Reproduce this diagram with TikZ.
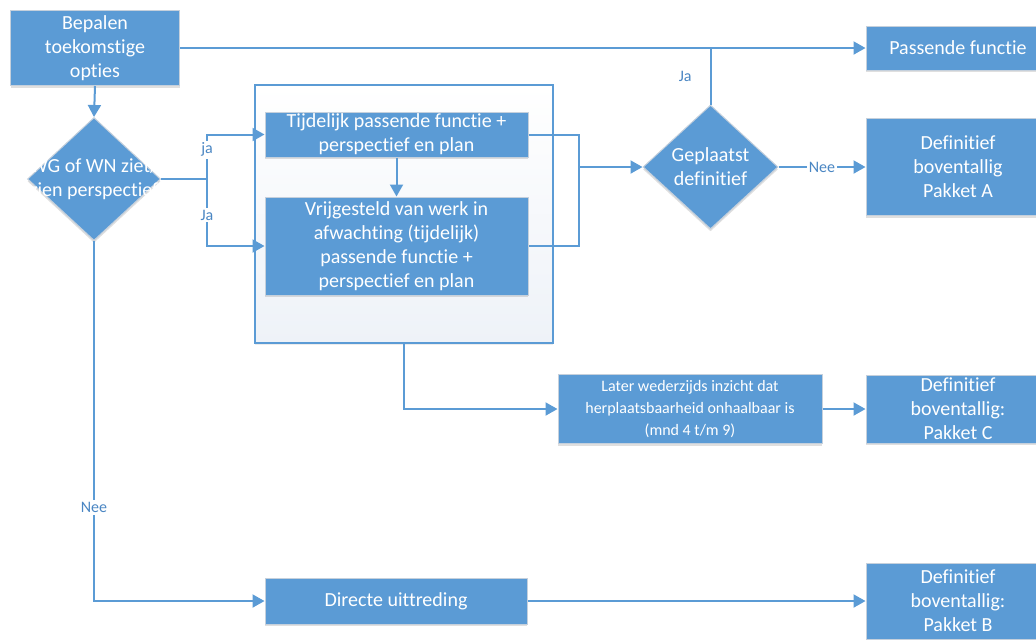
\documentclass[tikz,border=0pt]{standalone}
\usepackage{fontspec}
\setmainfont{Carlito}[Ligatures=NoCommon]
\usetikzlibrary{shapes.geometric,arrows.meta,shadows}
\definecolor{blauw}{HTML}{5B9BD5}
\definecolor{rand}{HTML}{C5D0DC}
\definecolor{labelblauw}{HTML}{4A86C3}
\definecolor{kaderbg}{HTML}{EEF2F8}
\begin{document}
\begin{tikzpicture}[x=.5pt,y=-.5pt,
    bloc/.style={draw=rand, line width=.5pt, fill=blauw, text=white, align=center, inner sep=0pt,
      font=\fontsize{10}{12}\selectfont, drop shadow={shadow xshift=0pt, shadow yshift=-1.2pt, opacity=.25}},
    ruit/.style={diamond, draw=rand, line width=.5pt, fill=blauw, inner sep=0pt,
      drop shadow={shadow xshift=0pt, shadow yshift=-1.2pt, opacity=.25}},
    ruittekst/.style={text=white, align=center, inner sep=0pt, font=\fontsize{10}{12}\selectfont},
    pijl/.style={draw=blauw, line width=1pt, -{Triangle[length=6pt,width=6.5pt]}},
    lijn/.style={draw=blauw, line width=1pt},
    etiket/.style={text=labelblauw, inner sep=1pt, font=\fontsize{8}{9}\selectfont}]
  \useasboundingbox (0,0) rectangle (1036,639);
  \clip (0,0) rectangle (1036,639);
  % kader
  \node[draw=blauw, line width=.7pt, top color=white, bottom color=kaderbg, minimum width=149pt, minimum height=129pt,
    drop shadow={shadow xshift=0pt, shadow yshift=-1pt, opacity=.15}] (kader) at (404,214) {};
  % links
  \node[bloc, minimum width=84.5pt, minimum height=37.5pt] (bepalen) at (95,48) {Bepalen\\toekomstige\\opties};
  \node[ruit, minimum width=66.5pt, minimum height=61.5pt,
    label={[ruittekst]center:WG of WN ziet/\\zien perspectief}] (wgwn) at (94,179) {};
  % midden
  \node[bloc, minimum width=131.5pt, minimum height=22.5pt] (tijdelijk) at (396.5,134.5) {Tijdelijk passende functie +\\perspectief en plan};
  \node[bloc, minimum width=131.5pt, minimum height=49pt] (vrij) at (396.5,246) {Vrijgesteld van werk in\\afwachting (tijdelijk)\\passende functie +\\perspectief en plan};
  \node[ruit, minimum width=67.5pt, minimum height=62pt,
    label={[ruittekst]center:Geplaatst\\definitief}] (geplaatst) at (710.5,167) {};
  \node[bloc, minimum width=132pt, minimum height=34.5pt, font=\fontsize{8}{11}\selectfont] (later) at (690,409) {Later wederzijds inzicht dat\\herplaatsbaarheid onhaalbaar is\\(mnd 4 t/m 9)};
  \node[bloc, minimum width=131pt, minimum height=23pt] (directe) at (396,601) {Directe uittreding};
  % rechts
  \node[bloc, minimum width=92pt, minimum height=22pt] (passend) at (958,48) {Passende functie};
  \node[bloc, minimum width=92pt, minimum height=48.5pt] (defA) at (958,167) {Definitief\\boventallig\\Pakket A};
  \node[bloc, minimum width=92pt, minimum height=34pt] (defC) at (958,409) {Definitief\\boventallig:\\Pakket C};
  \node[bloc, minimum width=92pt, minimum height=38pt] (defB) at (958,601) {Definitief\\boventallig:\\Pakket B};
  % verbindingen
  \coordinate (splits) at (207,179);
  \coordinate (samen) at (579,167);
  \draw[pijl] (bepalen.south) -- (wgwn.north);
  \draw[pijl] (bepalen.east) -- (passend.west);
  \draw[lijn] (wgwn.east) -- (splits);
  \draw[pijl] (splits) |- node[etiket, fill=white, pos=.33] {ja} (tijdelijk.west);
  \draw[pijl] (splits) |- node[etiket, fill=white, pos=.27] {Ja} (vrij.west);
  \draw[pijl] (tijdelijk) -- (vrij);
  \draw[lijn] (tijdelijk.east) -| (samen) |- (vrij.east);
  \draw[pijl] (samen) -- (geplaatst.west);
  \draw[lijn] (geplaatst.north) -- node[etiket, left=8pt] {Ja} (geplaatst.north |- passend.west);
  \draw[pijl] (geplaatst.east) -- node[etiket, fill=white] {Nee} (defA.west);
  \draw[pijl] (kader.south) |- (later.west);
  \draw[pijl] (later) -- (defC);
  \draw[pijl] (wgwn.south) |- node[etiket, fill=white, pos=.37] {Nee} (directe.west);
  \draw[pijl] (directe) -- (defB);
\end{tikzpicture}
\end{document}
